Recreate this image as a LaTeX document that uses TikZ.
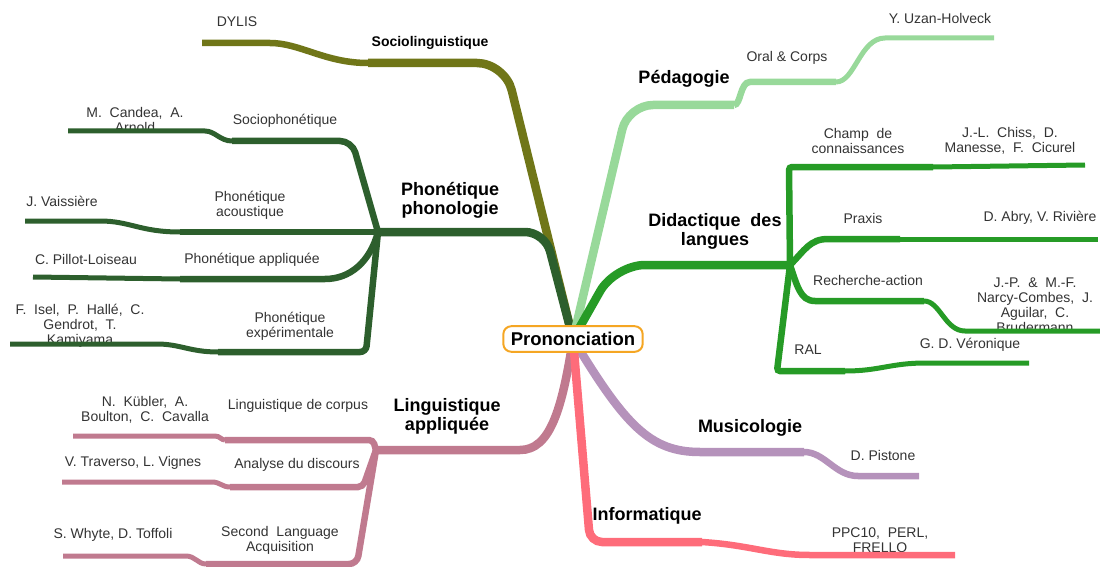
\documentclass[tikz,border=0pt]{standalone}
\usepackage{fontspec}
\setmainfont{Liberation Sans}
\definecolor{cSocio}{RGB}{112,118,24}
\definecolor{cPhon}{RGB}{45,95,45}
\definecolor{cLing}{RGB}{192,122,143}
\definecolor{cPeda}{RGB}{152,217,154}
\definecolor{cDida}{RGB}{38,155,38}
\definecolor{cMusi}{RGB}{181,146,187}
\definecolor{cInfo}{RGB}{254,108,122}
\definecolor{cRoot}{RGB}{245,166,35}
\definecolor{cText}{RGB}{51,51,51}

\begin{document}
\begin{tikzpicture}[x=1pt, y=-1pt,
		root/.style={draw=cRoot, line width=2pt, rounded corners=8pt, fill=white, inner xsep=7.5pt, inner ysep=6pt, font=\bfseries\fontsize{18.5}{20}\selectfont},
		topic/.style={align=center, font=\bfseries\fontsize{18}{19}\selectfont},
		leaf/.style={align=center, text=cText, font=\fontsize{14}{15}\selectfont},
		trunk/.style={line width=8.5pt},
		limb/.style={line width=6.5pt},
		twig/.style={line width=5pt}]
	\useasboundingbox (0,0) rectangle (1100,567);

	\begin{scope}
		\node[leaf] (nDylis) at (237,22) {DYLIS};
		\node[leaf, font=\bfseries\fontsize{14}{15}\selectfont, text=black] (nSocio) at (430,43) {Sociolinguistique};
		\node[leaf] (nCandea) at (135,120) {M.~~Candea,~~A.\\Arnold};
		\node[leaf] (nSph) at (285,121) {Sociophonétique};
		\node[topic] (nPhon) at (450,200) {Phonétique\\phonologie};
		\node[leaf] (nVaiss) at (62,201) {J. Vaissière};
		\node[leaf] (nAcou) at (250,205) {Phonétique\\acoustique};
		\node[leaf] (nPillot) at (86,259) {C. Pillot-Loiseau};
		\node[leaf] (nAppl) at (252,260) {Phonétique appliquée};
		\node[leaf] (nIsel) at (80,326) {F.~~Isel,~~P.~~Hallé,~~C.\\Gendrot,~~T.\\Kamiyama};
		\node[leaf] (nExpe) at (290,326) {Phonétique\\expérimentale};
		\node[leaf] (nKubler) at (145,410) {N.~~Kübler,~~A.\\Boulton,~~C.~~Cavalla};
		\node[leaf] (nCorp) at (298,406) {Linguistique de corpus};
		\node[topic] (nLing) at (447,416) {Linguistique\\appliquée};
		\node[leaf] (nTraverso) at (133,463) {V. Traverso, L. Vignes};
		\node[leaf] (nDisc) at (297,465) {Analyse du discours};
		\node[leaf] (nWhyte) at (113,535) {S. Whyte, D. Toffoli};
		\node[leaf] (nSla) at (280,540) {Second~~Language\\Acquisition};
	\end{scope}

	\begin{scope}
		\node[topic] (nPeda) at (684,79) {Pédagogie};
		\node[leaf] (nOral) at (787,58) {Oral \& Corps};
		\node[leaf] (nUzan) at (940,18) {Y. Uzan-Holveck};
		\node[leaf] (nChamp) at (858,141) {Champ~~de\\connaissances};
		\node[leaf] (nChiss) at (1010,141) {J.-L.~~Chiss,~~D.\\Manesse,~~F.~~Cicurel};
		\node[topic] (nDida) at (715,231) {Didactique~~des\\langues};
		\node[leaf] (nPraxis) at (863,218) {Praxis};
		\node[leaf] (nAbry) at (1040,218) {D. Abry, V. Rivière};
		\node[leaf] (nRech) at (868,280) {Recherche-action};
		\node[leaf] (nNarcy) at (1035,305) {J.-P.~~\&~~M.-F.\\Narcy-Combes,~~J.\\Aguilar,~~C.\\Brudermann};
		\node[leaf] (nRal) at (808,350) {RAL};
		\node[leaf] (nVero) at (970,345) {G. D. Véronique};
		\node[topic] (nMusi) at (750,428) {Musicologie};
		\node[leaf] (nPistone) at (883,455) {D. Pistone};
		\node[topic] (nInfo) at (647,516) {Informatique};
		\node[leaf] (nPpc) at (880,540) {PPC10,~~PERL,\\FRELLO};
	\end{scope}

	\coordinate (c) at (573,339);

	% Sociolinguistique
	\coordinate (socio) at (368,63);
	\coordinate (dylis) at (202,43);
	\draw[cSocio, trunk, rounded corners=28pt] (c) -- (505,63) -- (socio);
	\draw[cSocio, limb] (socio) .. controls (325,63) and (300,43) .. (270,43) -- (dylis);

	% Phonetique phonologie
	\coordinate (phon) at (378,232);
	\draw[cPhon, trunk, rounded corners=20pt] (c) -- (545,232) -- (phon);
	\coordinate (sph) at (232,141);
	\coordinate (candea) at (68,131);
	\draw[cPhon, limb, rounded corners=12pt] (phon) -- (352,141) -- (sph);
	\draw[cPhon, twig] (sph) .. controls (220,141) and (215,131) .. (205,131) -- (candea);
	\coordinate (acou) at (180,232);
	\coordinate (vaiss) at (25,221);
	\draw[cPhon, limb] (phon) -- (acou);
	\draw[cPhon, twig] (acou) .. controls (140,232) and (130,221) .. (100,221) -- (vaiss);
	\coordinate (appl) at (180,279);
	\coordinate (pillot) at (33,277);
	\draw[cPhon, limb] (phon) .. controls (370,262) and (350,279) .. (325,279) -- (appl);
	\draw[cPhon, twig] (appl) -- (pillot);
	\coordinate (expe) at (218,352);
	\coordinate (isel) at (10,344);
	\draw[cPhon, limb, rounded corners=6pt] (phon) -- (366,352) -- (expe);
	\draw[cPhon, twig] (expe) .. controls (190,352) and (180,344) .. (157,344) -- (isel);

	% Linguistique appliquee
	\coordinate (ling) at (376,450);
	\draw[cLing, trunk] (c) .. controls (562,410) and (550,450) .. (520,450) -- (ling);
	\coordinate (corp) at (225,440);
	\coordinate (kubler) at (73,436);
	\draw[cLing, limb, rounded corners=4pt] (ling) -- (373,440) -- (corp);
	\draw[cLing, twig] (corp) .. controls (221,440) and (220,436) .. (215,436) -- (kubler);
	\coordinate (disc) at (230,487);
	\coordinate (traverso) at (62,482);
	\draw[cLing, limb, rounded corners=5pt] (ling) -- (363,487) -- (disc);
	\draw[cLing, twig] (disc) .. controls (222,487) and (220,482) .. (212,482) -- (traverso);
	\coordinate (sla) at (206,564);
	\coordinate (whyte) at (63,556);
	\draw[cLing, limb, rounded corners=8pt] (ling) -- (357,564) -- (sla);
	\draw[cLing, twig] (sla) .. controls (198,564) and (195,556) .. (186,556) -- (whyte);

	% Pedagogie
	\coordinate (peda) at (734,105);
	\coordinate (oral) at (836,82);
	\coordinate (uzan) at (994,38);
	\draw[cPeda, trunk, rounded corners=25pt] (c) -- (628,105) -- (peda);
	\draw[cPeda, limb] (peda) .. controls (741,105) and (740,82) .. (750,82) -- (oral);
	\draw[cPeda, twig] (oral) .. controls (855,82) and (860,38) .. (885,38) -- (uzan);

	% Didactique des langues
	\coordinate (dida) at (790,265);
	\draw[cDida, trunk, rounded corners=30pt] (c) -- (615,265) -- (dida);
	\coordinate (champ) at (933,167);
	\coordinate (chiss) at (1085,165);
	\draw[cDida, limb, rounded corners=3pt] (dida) -- (789,167) -- (champ);
	\draw[cDida, twig] (champ) -- (chiss);
	\coordinate (praxis) at (900,239);
	\coordinate (abry) at (1098,239);
	\draw[cDida, limb] (dida) .. controls (805,250) and (810,239) .. (828,239) -- (praxis);
	\draw[cDida, twig] (praxis) -- (abry);
	\coordinate (rech) at (924,301);
	\coordinate (narcy) at (1100,331);
	\draw[cDida, limb] (dida) .. controls (797,285) and (800,301) .. (815,301) -- (rech);
	\draw[cDida, twig] (rech) .. controls (940,301) and (945,331) .. (965,331) -- (narcy);
	\coordinate (ral) at (845,371);
	\coordinate (vero) at (1029,363);
	\draw[cDida, limb, rounded corners=3pt] (dida) -- (777,371) -- (ral);
	\draw[cDida, twig] (ral) .. controls (880,371) and (890,363) .. (926,363) -- (vero);

	% Musicologie
	\coordinate (musi) at (804,452);
	\coordinate (pistone) at (919,476);
	\draw[cMusi, trunk] (c) .. controls (625,425) and (650,452) .. (700,452) -- (musi);
	\draw[cMusi, limb] (musi) .. controls (825,452) and (835,476) .. (858,476) -- (pistone);

	% Informatique
	\coordinate (info) at (702,542);
	\coordinate (ppc) at (955,555);
	\draw[cInfo, trunk, rounded corners=12pt] (c) -- (590,542) -- (info);
	\draw[cInfo, limb] (info) .. controls (750,545) and (770,555) .. (810,555) -- (ppc);

	\node[root] (pron) at (c) {Prononciation};
\end{tikzpicture}
\end{document}
